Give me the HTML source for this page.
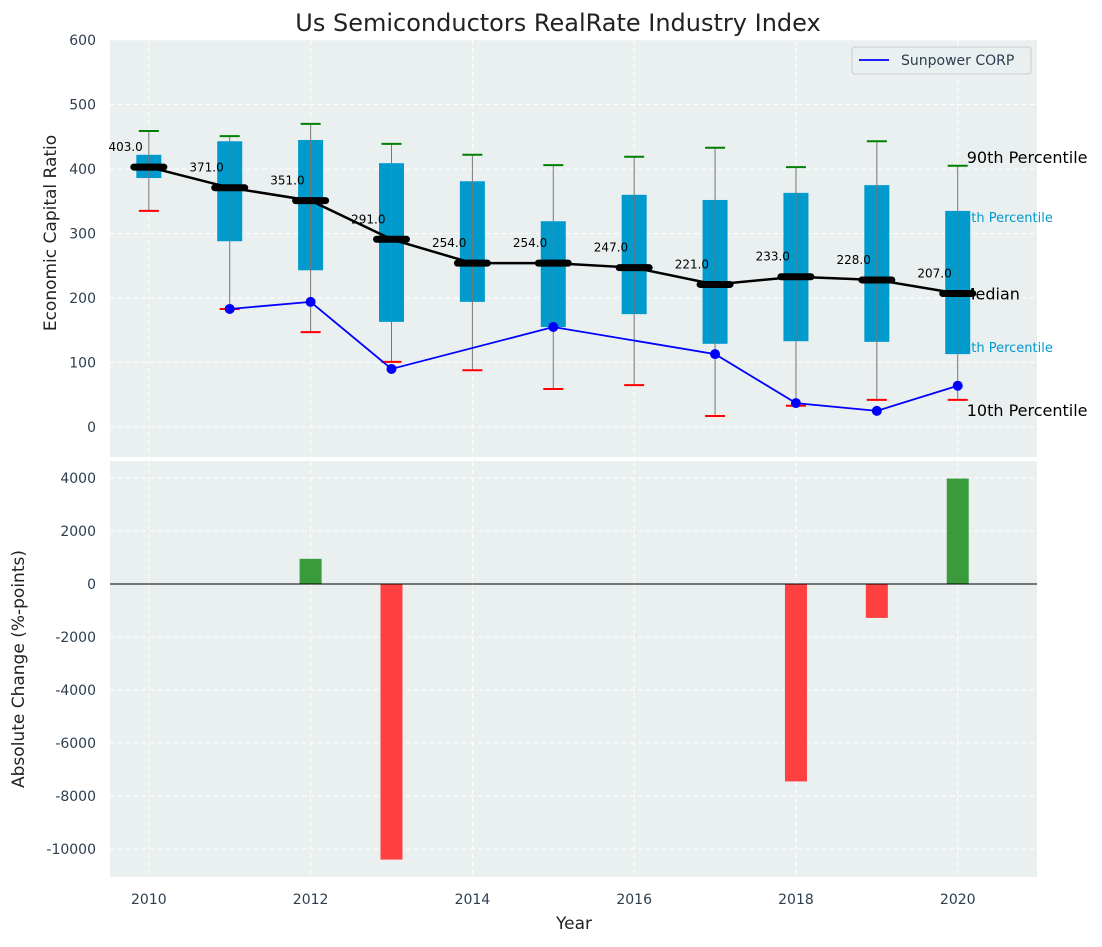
<!DOCTYPE html>
<html><head><meta charset="utf-8"><style>
body{margin:0;background:#fff;}
svg text{font-family:"DejaVu Sans","Liberation Sans",sans-serif;}
</style></head><body>
<svg id="chart" width="1102" height="942" xmlns="http://www.w3.org/2000/svg"></svg>
<script>
const years=[2010,2011,2012,2013,2014,2015,2016,2017,2018,2019,2020];
const p10=[335,183,147,101,88,59,65,17,33,42,42];
const p25=[386,288,243,163,194,155,175,129,133,132,113];
const medians=[403,371,351,291,254,254,247,221,233,228,207];
const p75=[422,443,445,409,381,319,360,352,363,375,335];
const p90=[459,451,470,439,422,406,419,433,403,443,405];
const sunYears=[2011,2012,2013,2015,2017,2018,2019,2020];
const sunVals=[183,194,90,155,113,37,25,64];
const chgYears=[2012,2013,2018,2019,2020];
const chgVals=[950,-10400,-7450,-1280,3980];
const topTicks=[0,100,200,300,400,500,600];
const botTicks=[-10000,-8000,-6000,-4000,-2000,0,2000,4000];
const xTicks=[2010,2012,2014,2016,2018,2020];

const NS="http://www.w3.org/2000/svg";
const svg=document.getElementById('chart');
function mk(tag,attrs,parent,txt){const e=document.createElementNS(NS,tag);for(const k in attrs)e.setAttribute(k,attrs[k]);if(txt!==undefined)e.textContent=txt;(parent||svg).appendChild(e);return e;}
const L=110,R=1037;
const x=v=>L+(v-2009.52)*(R-L)/(2020.98-2009.52);
const yT=v=>427-v*0.645;
const yB=v=>584-v*0.0265;

let e;
e=mk('rect',{x:L,y:40,width:R-L,height:417,fill:'#eaeff0'});

e=mk('rect',{x:L,y:461,width:R-L,height:416,fill:'#eaeff0'});


topTicks.forEach(t=>{mk('line',{x1:L,x2:R,y1:yT(t),y2:yT(t),stroke:'#fff','stroke-dasharray':'5,3'});
 e=mk('text',{x:96,y:yT(t)+5,'text-anchor':'end','font-size':14,fill:'#2d3e50'},svg,t);
 });
botTicks.forEach(t=>{mk('line',{x1:L,x2:R,y1:yB(t),y2:yB(t),stroke:'#fff','stroke-dasharray':'5,3'});
 e=mk('text',{x:96,y:yB(t)+5,'text-anchor':'end','font-size':14,fill:'#2d3e50'},svg,t);
 });
xTicks.forEach(t=>{mk('line',{x1:x(t),x2:x(t),y1:40,y2:457,stroke:'#fff','stroke-dasharray':'5,3'});
 mk('line',{x1:x(t),x2:x(t),y1:461,y2:877,stroke:'#fff','stroke-dasharray':'5,3'});
 e=mk('text',{x:x(t),y:904,'text-anchor':'middle','font-size':14,fill:'#2d3e50'},svg,t);
 });

// right annotations (behind boxes)
const ax=x(2020);
[['90th Percentile',yT(p90[10])-3,16,'#000',9],['75th Percentile',yT(p75[10])+11,13,'#009acd',-3],['Median',yT(medians[10])+6,16,'#000',4],['25th Percentile',yT(p25[10])-2,13,'#009acd',-3],['10th Percentile',yT(p10[10])+16,16,'#000',9]].forEach(a=>{
 e=mk('text',{x:ax+a[4],y:a[1],'font-size':a[2],fill:a[3]},svg,a[0]);
 });

years.forEach((yr,i)=>{
 const cx=x(yr);
 e=mk('rect',{x:cx-12.5,y:yT(p75[i]),width:25,height:yT(p25[i])-yT(p75[i]),fill:'#009acd'});
 
 mk('line',{x1:cx,x2:cx,y1:yT(p10[i]),y2:yT(p90[i]),stroke:'#777','stroke-width':1});
 e=mk('line',{x1:cx-10,x2:cx+10,y1:yT(p90[i]),y2:yT(p90[i]),stroke:'green','stroke-width':2});
 
 e=mk('line',{x1:cx-10,x2:cx+10,y1:yT(p10[i]),y2:yT(p10[i]),stroke:'red','stroke-width':2});
 
});
e=mk('polyline',{points:years.map((yr,i)=>x(yr)+','+yT(medians[i])).join(' '),fill:'none',stroke:'#000','stroke-width':2.5});

years.forEach((yr,i)=>{
 const cx=x(yr),cy=yT(medians[i]);
 e=mk('line',{x1:cx-15,x2:cx+15,y1:cy,y2:cy,stroke:'#000','stroke-width':7,'stroke-linecap':'round'});
 
 e=mk('text',{x:cx-6,y:cy-16,'text-anchor':'end','font-size':12,fill:'#000'},svg,medians[i].toFixed(1));
 
});
e=mk('polyline',{points:sunYears.map((yr,i)=>x(yr)+','+yT(sunVals[i])).join(' '),fill:'none',stroke:'blue','stroke-width':1.8});

sunYears.forEach((yr,i)=>{e=mk('circle',{cx:x(yr),cy:yT(sunVals[i]),r:5,fill:'blue'});
 });

const lg=mk('g',{});

mk('rect',{x:852,y:47,width:179,height:27,rx:3,fill:'#eaeff0',stroke:'#ccc'},lg);
mk('line',{x1:859,x2:889,y1:60,y2:60,stroke:'blue','stroke-width':1.8},lg);
e=mk('text',{x:901,y:65,'font-size':14,fill:'#2d3e50'},lg,'Sunpower CORP');


chgYears.forEach((yr,i)=>{const v=chgVals[i];const y0=yB(Math.max(v,0)),y1=yB(Math.min(v,0));
 e=mk('rect',{x:x(yr)-11,y:y0,width:22,height:y1-y0,fill:v>=0?'#3a9b3d':'#ff4040'});
 });
mk('line',{x1:L,x2:R,y1:yB(0),y2:yB(0),stroke:'#000','stroke-width':1});

e=mk('text',{x:558,y:31,'text-anchor':'middle','font-size':24,fill:'#222'},svg,'Us Semiconductors RealRate Industry Index');

e=mk('text',{x:574,y:929,'text-anchor':'middle','font-size':17,fill:'#222'},svg,'Year');

e=mk('text',{x:0,y:0,'text-anchor':'middle','font-size':17,fill:'#222',transform:'translate(56,233) rotate(-90)'},svg,'Economic Capital Ratio');

e=mk('text',{x:0,y:0,'text-anchor':'middle','font-size':17,fill:'#222',transform:'translate(24,669) rotate(-90)'},svg,'Absolute Change (%-points)');

</script>
</body></html>
